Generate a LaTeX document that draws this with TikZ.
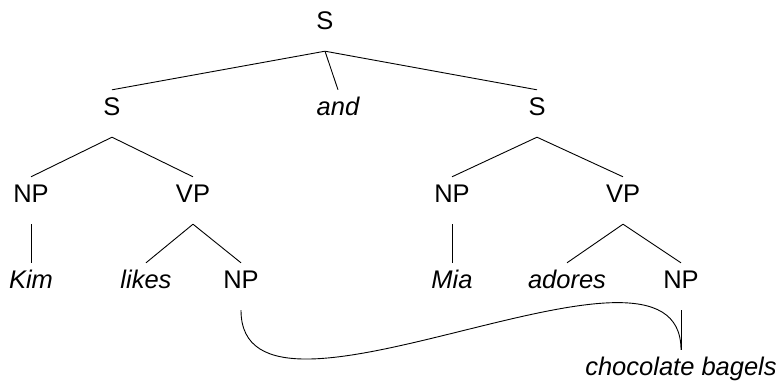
\documentclass[tikz,border=0pt]{standalone}
\usepackage{fontspec}
\setmainfont{Liberation Sans}
\begin{document}
\begin{tikzpicture}[x=1pt,y=-1pt,
  lbl/.style={inner sep=0pt, anchor=base, text height=25pt, text depth=22pt,
    font=\fontsize{25.5}{30}\selectfont},
  wrd/.style={lbl, font=\fontsize{25.5}{30}\selectfont\itshape},
  edge/.style={line width=0.9pt, black}]
\useasboundingbox (0,0) rectangle (784,380);
% row 1
\node[lbl] (s0) at (325,29) {S};
% row 2
\node[lbl] (s1) at (112,115) {S};
\node[wrd] (and) at (338,115) {and};
\node[lbl] (s2) at (537,115) {S};
% row 3
\node[lbl] (np1) at (31,202) {NP};
\node[lbl] (vp1) at (193,202) {VP};
\node[lbl] (np3) at (452,202) {NP};
\node[lbl] (vp2) at (623,202) {VP};
% row 4
\node[wrd] (kim) at (31,288) {Kim};
\node[wrd] (likes) at (146,288) {likes};
\node[lbl] (np2) at (241,288) {NP};
\node[wrd] (mia) at (452,288) {Mia};
\node[wrd] (adores) at (567,288) {adores};
\node[lbl] (np4) at (681,288) {NP};
% row 5
\node[wrd] (cb) at (681,375) {chocolate bagels};
% edges
\draw[edge] (s0.south) -- (s1.north);
\draw[edge] (s0.south) -- (and.north);
\draw[edge] (s0.south) -- (s2.north);
\draw[edge] (s1.south) -- (np1.north);
\draw[edge] (s1.south) -- (vp1.north);
\draw[edge] (s2.south) -- (np3.north);
\draw[edge] (s2.south) -- (vp2.north);
\draw[edge] (np1.south) -- (kim.north);
\draw[edge] (vp1.south) -- (likes.north);
\draw[edge] (vp1.south) -- (np2.north);
\draw[edge] (np3.south) -- (mia.north);
\draw[edge] (vp2.south) -- (adores.north);
\draw[edge] (vp2.south) -- (np4.north);
\draw[edge] (np4.south) -- (cb.north);
\draw[edge] (np2.south) .. controls +(0,150) and +(0,-147) .. (cb.north);
\end{tikzpicture}
\end{document}
